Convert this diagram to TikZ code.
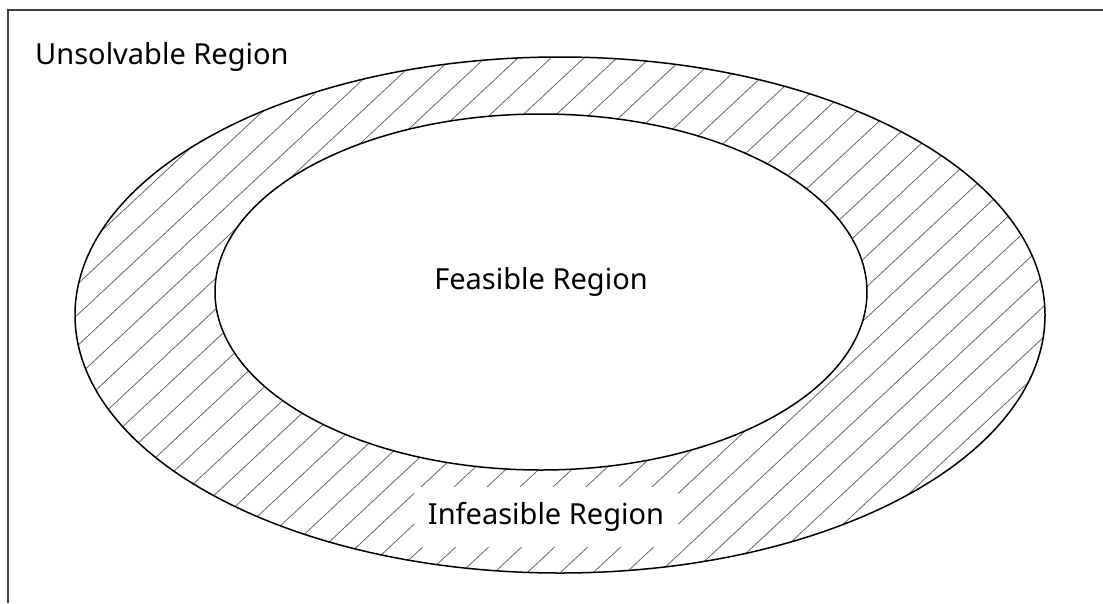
\documentclass[tikz,border=0pt]{standalone}
\usepackage{fontspec}
\setmainfont{Noto Sans}
\begin{document}
\begin{tikzpicture}[x=1pt,y=-1pt,
  frame/.style={draw=black!75,line width=2pt},
  ring/.style={draw=black,line width=1.5pt},
  hatch/.style={draw=black!60,line width=0.8pt},
  label/.style={font=\fontsize{29}{32}\selectfont,inner sep=0pt,text=black}]
\useasboundingbox (0,0) rectangle (1103,603);
\coordinate (oc) at (560,315);
\coordinate (ic) at (541,292);
\begin{scope}
  \clip (oc) ellipse [x radius=485, y radius=258];
  \foreach \x in {-700,-667,...,1200}
    \draw[hatch] (\x,640) -- ++(700,-653);
\end{scope}
\fill[white] (ic) ellipse [x radius=326, y radius=178];
\draw[ring] (oc) ellipse [x radius=485, y radius=258];
\draw[ring] (ic) ellipse [x radius=326, y radius=178];
\draw[frame] (8,603) -- (8,9.5) -- (1103,9.5);
\node[label,anchor=base west] (unsolv) at (35,64) {Unsolvable Region};
\node[label,anchor=base] (feas) at (541,289) {Feasible Region};
\node[label,fill=white,inner xsep=14pt,inner ysep=0pt,minimum height=60pt] (infeas) at (546,517) {Infeasible Region};
\end{tikzpicture}
\end{document}
